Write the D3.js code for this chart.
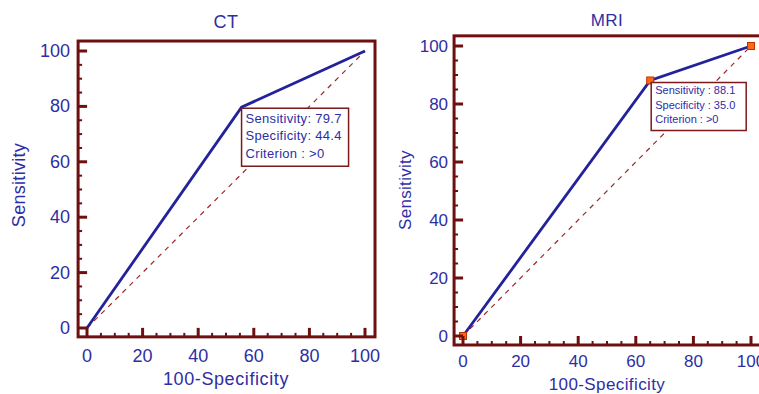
<!DOCTYPE html>
<meta charset="utf-8">
<style>
	body { margin: 0; background: #fff; }
	svg { display: block; }
	text { font-family: "Liberation Sans", Arial, sans-serif; fill: #2e2ea4; }
	.frame { fill: none; stroke: #6e1010; stroke-width: 3px; }
	.tick-line { stroke: #6e1010; stroke-width: 3px; }
	.minor-line { stroke: #6e1010; stroke-width: 2px; }
	.diag { fill: none; stroke: #9a2a2a; stroke-width: 1.2px; stroke-dasharray: 5,5; }
	.roc { fill: none; stroke: #22229a; stroke-width: 2.8px; }
	.marker { fill: #ff6a10; stroke: #c03000; stroke-width: 1px; }
	.box { fill: #fff; stroke: #7a1a1a; stroke-width: 1.5px; }
</style>
<body>
<div id="chart"></div>
<script src="https://d3js.org/d3.v7.min.js"></script>
<script>
	// data
	var ct_fpr = [0, 55.6, 100];
	var ct_sens = [0, 79.7, 100];
	var ct_label = ["Sensitivity: 79.7", "Specificity: 44.4", "Criterion : >0"];

	var mri_fpr = [0, 65.0, 100];
	var mri_sens = [0, 88.1, 100];
	var mri_label = ["Sensitivity : 88.1", "Specificity : 35.0", "Criterion : >0"];

	var major_ticks = [0, 20, 40, 60, 80, 100];
	var minor_ticks = d3.range(0, 101, 5).filter(function (d) { return d % 20 !== 0; });

	var svg = d3.select("#chart").append("svg")
			.attr("width", 759)
			.attr("height", 394);

	function draw_panel(opt) {
		var x = d3.scaleLinear().domain([0, 100]).range(opt.xr);
		var y = d3.scaleLinear().domain([0, 100]).range(opt.yr);
		var g = svg.append("g");

		var fx0 = x(opt.pad[0]), fx1 = x(opt.pad[1]);
		var fy0 = y(opt.pad[0]), fy1 = y(opt.pad[1]);

		// diagonal reference
		g.append("line").attr("class", "diag")
				.attr("x1", x(0)).attr("y1", y(0))
				.attr("x2", x(100)).attr("y2", y(100));

		// roc curve
		var pts = opt.fpr.map(function (d, i) { return [d, opt.sens[i]]; });
		var line = d3.line()
				.x(function (d) { return x(d[0]); })
				.y(function (d) { return y(d[1]); });
		g.append("path").datum(pts).attr("class", "roc").attr("d", line);

		if (opt.markers) {
			g.selectAll(".marker").data(pts).enter().append("rect")
					.attr("class", "marker")
					.attr("x", function (d) { return x(d[0]) - 3.5; })
					.attr("y", function (d) { return y(d[1]) - 3.5; })
					.attr("width", 7).attr("height", 7);
		}

		// frame
		g.append("rect").attr("class", "frame")
				.attr("x", fx0).attr("y", fy1)
				.attr("width", fx1 - fx0).attr("height", fy0 - fy1);

		major_ticks.forEach(function (t) {
			g.append("line").attr("class", "tick-line")
					.attr("x1", x(t)).attr("x2", x(t))
					.attr("y1", fy0).attr("y2", fy0 - 9);
			g.append("text")
					.attr("x", x(t)).attr("y", fy0 + opt.xlab_gap)
					.attr("text-anchor", "middle")
					.style("font-size", opt.font + "px")
					.text(t);
			g.append("line").attr("class", "tick-line")
					.attr("y1", y(t)).attr("y2", y(t))
					.attr("x1", fx0).attr("x2", fx0 + 9);
			g.append("text")
					.attr("x", fx0 - opt.ylab_gap).attr("y", y(t) + 6)
					.attr("text-anchor", "end")
					.style("font-size", opt.font + "px")
					.text(t);
		});
		minor_ticks.forEach(function (t) {
			g.append("line").attr("class", "minor-line")
					.attr("x1", x(t)).attr("x2", x(t))
					.attr("y1", fy0).attr("y2", fy0 - 4);
			g.append("line").attr("class", "minor-line")
					.attr("y1", y(t)).attr("y2", y(t))
					.attr("x1", fx0).attr("x2", fx0 + 4);
		});

		// label box at the cut-off point
		var bx = x(opt.fpr[1]) + opt.box_off[0], by = y(opt.sens[1]) + opt.box_off[1];
		g.append("rect").attr("class", "box")
				.attr("x", bx).attr("y", by)
				.attr("width", opt.box_size[0]).attr("height", opt.box_size[1]);
		opt.label.forEach(function (s, i) {
			g.append("text")
					.attr("x", bx + 4).attr("y", by + opt.line_h * (i + 1) - 3)
					.style("font-size", opt.box_font + "px")
					.style("letter-spacing", opt.box_ls + "px")
					.text(s);
		});

		// titles
		var cx = (x(0) + x(100)) / 2;
		g.append("text").attr("x", cx).attr("y", opt.title_y)
				.attr("text-anchor", "middle").style("font-size", opt.font + "px")
				.style("letter-spacing", "0.5px")
				.text(opt.title);
		g.append("text").attr("x", cx).attr("y", opt.xtitle_y)
				.attr("text-anchor", "middle").style("font-size", opt.font + "px")
				.style("letter-spacing", opt.ls + "px")
				.text("100-Specificity");
		g.append("text")
				.attr("transform", "translate(" + opt.ylab_x + "," + opt.ytitle_y + ") rotate(-90)")
				.attr("text-anchor", "middle").style("font-size", opt.font + "px")
				.style("letter-spacing", "0.3px")
				.text("Sensitivity");
	}

	draw_panel({
		title: "CT", fpr: ct_fpr, sens: ct_sens, label: ct_label,
		xr: [87, 365], yr: [328, 51], pad: [-3.2, 103.6],
		font: 18, ls: 0.6, title_y: 28, xtitle_y: 385, ytitle_y: 185,
		xlab_gap: 25, ylab_gap: 8, ylab_x: 25, markers: false,
		box_off: [0, 1], box_size: [107, 58], line_h: 17.5, box_font: 13, box_ls: 0.3
	});

	draw_panel({
		title: "MRI", fpr: mri_fpr, sens: mri_sens, label: mri_label,
		xr: [463, 751], yr: [336, 46], pad: [-3.1, 103.5],
		font: 17, ls: 0.4, title_y: 26, xtitle_y: 390, ytitle_y: 190,
		xlab_gap: 22, ylab_gap: 6, ylab_x: 411, markers: true,
		box_off: [1, 2], box_size: [95, 48], line_h: 14.5, box_font: 11, box_ls: 0
	});
</script>
</body>
